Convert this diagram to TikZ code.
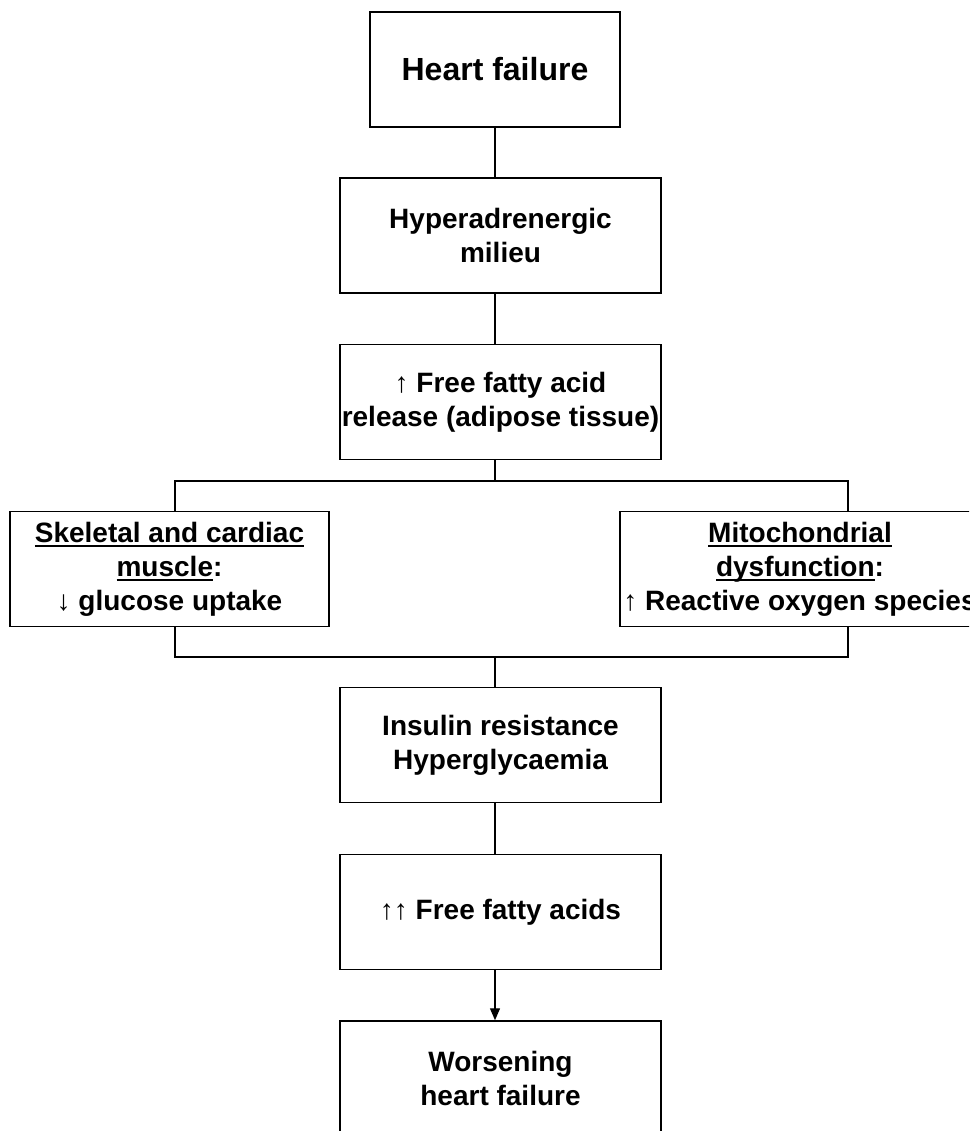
\documentclass[tikz,border=0pt]{standalone}
\usepackage{fontspec}
\setmainfont{Liberation Sans}
\usetikzlibrary{arrows.meta}
\newcommand\myul[1]{\setbox0=\hbox{#1}\rlap{\raisebox{-5pt}{\rule{\wd0}{2pt}}}\box0}
\newcommand\up{{\mdseries\char"2191}}
\newcommand\dn{{\mdseries\char"2193}}
\tikzset{
  box/.style={draw, line width=1.5pt, inner sep=0pt, minimum height=115pt, align=center,
    font=\fontsize{28}{34}\selectfont\bfseries},
  conn/.style={line width=1.3pt},
}
\begin{document}
\begin{tikzpicture}[x=1pt,y=-1pt]
\useasboundingbox (0,0) rectangle (969,1131);
\clip (0,0) rectangle (969,1131);
\node[box, minimum width=250pt, font=\fontsize{32}{38}\selectfont\bfseries] (hf) at (495,69.5) {Heart failure};
\node[box, minimum width=321pt] (hyp) at (500.5,235.5) {Hyperadrenergic\\milieu};
\node[box, minimum width=321pt] (ffa) at (500.5,402) {\up\ Free fatty acid\\release (adipose tissue)};
\node[box, minimum width=319pt] (skel) at (169.5,569) {\myul{Skeletal and cardiac}\\\myul{muscle}:\\\dn\ glucose uptake};
\node[box, minimum width=360pt] (mito) at (800,569) {\myul{Mitochondrial}\\\myul{dysfunction}:\\\up\ Reactive oxygen species};
\node[box, minimum width=321pt] (ins) at (500.5,745) {Insulin resistance\\Hyperglycaemia};
\node[box, minimum width=321pt] (ffa2) at (500.5,912) {\up\up\ Free fatty acids};
\node[box, minimum width=321pt] (wor) at (500.5,1078.5) {Worsening\\heart failure};
\coordinate (jt) at (495,481);
\coordinate (jtl) at (175,481);
\coordinate (jtr) at (848,481);
\coordinate (jb) at (495,657);
\coordinate (jbl) at (175,657);
\coordinate (jbr) at (848,657);
\draw[conn] (hf.south) -- (hf.south |- hyp.north);
\draw[conn] (hf.south |- hyp.south) -- (hf.south |- ffa.north);
\draw[conn] (jt |- ffa.south) -- (jt);
\draw[conn] (jtl |- skel.north) -- (jtl) -- (jtr) -- (jtr |- mito.north);
\draw[conn] (jbl |- skel.south) -- (jbl) -- (jbr) -- (jbr |- mito.south);
\draw[conn] (jb) -- (jb |- ins.north);
\draw[conn] (jb |- ins.south) -- (jb |- ffa2.north);
\draw[conn, -{Triangle[length=12pt,width=10pt]}] (jb |- ffa2.south) -- (jb |- wor.north);
\end{tikzpicture}
\end{document}
